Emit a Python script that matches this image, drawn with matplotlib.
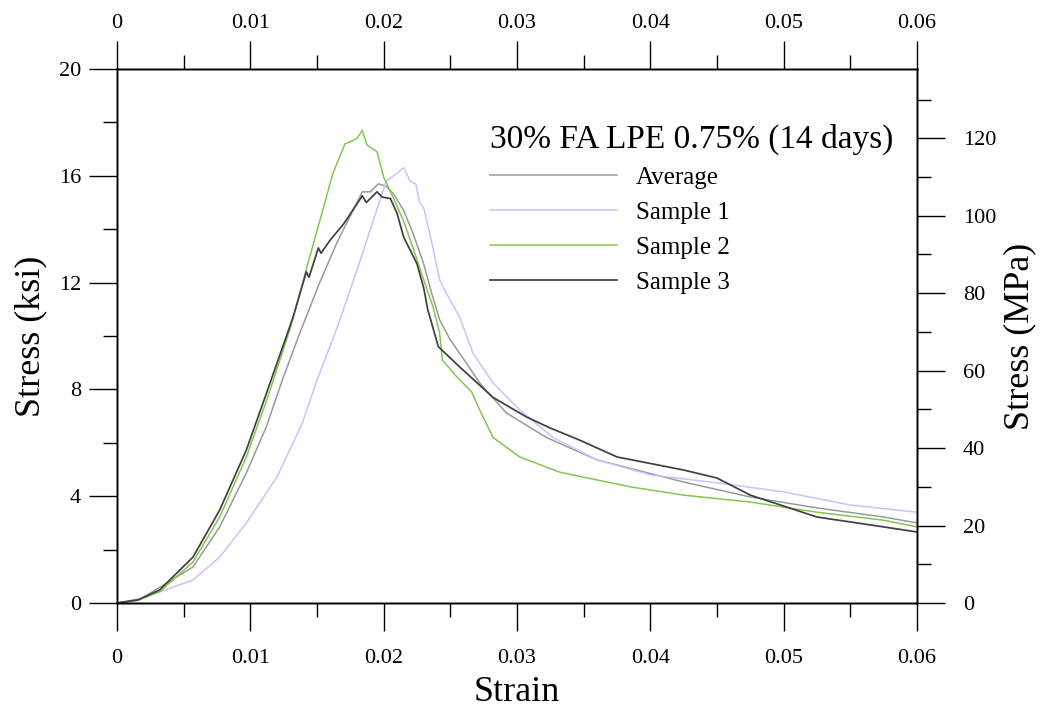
import matplotlib
matplotlib.use("Agg")
import matplotlib.pyplot as plt
from matplotlib.ticker import MultipleLocator, FuncFormatter

plt.rcParams['font.family'] = ['Liberation Serif', 'DejaVu Serif']

# ---- data (strain, stress in ksi) ----
avg_strain = [0, 0.0016, 0.0057, 0.0077, 0.0097, 0.0112, 0.0124, 0.0137, 0.0152, 0.0165, 0.0175,
              0.0184, 0.019, 0.0196, 0.0202, 0.0207, 0.0215, 0.0222, 0.023, 0.0236, 0.0242, 0.025,
              0.0262, 0.0272, 0.0292, 0.0322, 0.036, 0.0425, 0.0475, 0.0525, 0.0575, 0.06]
avg_stress = [0, 0.1, 1.35, 2.85, 4.87, 6.6, 8.35, 10.1, 12.0, 13.5, 14.5,
              15.4, 15.4, 15.7, 15.6, 15.35, 14.7, 13.85, 12.7, 11.6, 10.6, 9.85,
              8.99, 8.24, 7.12, 6.2, 5.36, 4.53, 3.97, 3.56, 3.22, 3.0]

s1_strain = [0, 0.002, 0.0057, 0.0077, 0.0097, 0.012, 0.0139, 0.015, 0.0165, 0.018, 0.0192,
             0.0202, 0.021, 0.0215, 0.022, 0.0224, 0.0227, 0.023, 0.0237, 0.0242, 0.0247, 0.0257,
             0.0267, 0.0282, 0.0302, 0.0327, 0.036, 0.04, 0.045, 0.05, 0.055, 0.06]
s1_stress = [0, 0.2, 0.86, 1.72, 3.0, 4.72, 6.74, 8.35, 10.3, 12.47, 14.3,
             15.8, 16.1, 16.3, 15.8, 15.7, 15.0, 14.8, 13.3, 12.1, 11.6, 10.7,
             9.36, 8.24, 7.23, 6.2, 5.36, 4.8, 4.5, 4.16, 3.67, 3.4]

s2_strain = [0, 0.0016, 0.0032, 0.0057, 0.0077, 0.0097, 0.0113, 0.013, 0.01425, 0.0152, 0.0162,
             0.0171, 0.0175, 0.018, 0.0184, 0.01875, 0.0195, 0.02, 0.0207, 0.0215, 0.0222, 0.023,
             0.0237, 0.0242, 0.0244, 0.0255, 0.0266, 0.0272, 0.0282, 0.0302, 0.0332, 0.0385,
             0.0425, 0.0475, 0.0525, 0.0575, 0.06]
s2_stress = [0, 0.11, 0.42, 1.54, 3.22, 5.47, 7.7, 10.3, 12.6, 14.3, 16.1,
             17.2, 17.27, 17.4, 17.7, 17.15, 16.9, 15.95, 15.2, 14.3, 13.3, 12.1,
             11.1, 10.1, 9.1, 8.46, 7.9, 7.23, 6.2, 5.47, 4.9, 4.35,
             4.04, 3.78, 3.4, 3.1, 2.85]

s3_strain = [0, 0.0016, 0.0032, 0.0057, 0.0077, 0.0097, 0.0111, 0.0132, 0.0142, 0.0144, 0.0151,
             0.0153, 0.016, 0.017, 0.0178, 0.0184, 0.0187, 0.0195, 0.0199, 0.0205, 0.021, 0.0215,
             0.0225, 0.023, 0.0233, 0.0241, 0.0257, 0.0282, 0.0307, 0.0325, 0.0347, 0.0375,
             0.0425, 0.045, 0.0475, 0.0525, 0.0575, 0.06]
s3_stress = [0, 0.12, 0.49, 1.72, 3.48, 5.73, 7.7, 10.7, 12.4, 12.2, 13.3,
             13.1, 13.6, 14.2, 14.8, 15.25, 15.0, 15.4, 15.2, 15.15, 14.6, 13.7,
             12.7, 11.8, 11.0, 9.6, 8.84, 7.7, 6.97, 6.55, 6.1, 5.47,
             4.98, 4.68, 4.04, 3.22, 2.85, 2.66]

labels = ["Average", "Sample 1", "Sample 2", "Sample 3"]
colors = ["#999999", "#c4c4ff", "#80c850", "#404040"]
title = "30% FA LPE 0.75% (14 days)"
KSI_TO_MPA = 6.894757

fig = plt.figure(figsize=(10.41, 7.09), dpi=100)
ax = fig.add_axes([0.1124, 0.1495, 0.7685, 0.7532])

series = [(avg_strain, avg_stress), (s1_strain, s1_stress), (s2_strain, s2_stress), (s3_strain, s3_stress)]
for (x, y), lab, c in zip(series, labels, colors):
    lw = 1.25 if lab == "Sample 3" else 1.1
    ax.plot(x, y, color=c, lw=lw, label=lab)

strain_fmt = FuncFormatter(lambda v, p: "%g" % round(v, 3))

ax.set_xlim(0, 0.06)
ax.set_ylim(0, 20)
ax.xaxis.set_major_locator(MultipleLocator(0.01))
ax.xaxis.set_minor_locator(MultipleLocator(0.005))
ax.yaxis.set_major_locator(MultipleLocator(4))
ax.yaxis.set_minor_locator(MultipleLocator(2))
ax.xaxis.set_major_formatter(strain_fmt)
ax.tick_params(axis='both', which='major', length=20, width=1, labelsize=16)
ax.tick_params(axis='both', which='minor', length=10, width=1)
ax.tick_params(axis='x', which='both', top=False, direction='out')
ax.tick_params(axis='x', which='major', pad=13)
ax.tick_params(axis='y', which='both', right=False, direction='out', pad=6)
ax.set_xlabel("Strain", fontsize=26, labelpad=6)
ax.set_ylabel("Stress (ksi)", fontsize=26, labelpad=8)

# right axis in MPa
ax2 = ax.twinx()
ax2.set_ylim(0, 20 * KSI_TO_MPA)
ax2.yaxis.set_major_locator(MultipleLocator(20))
ax2.yaxis.set_minor_locator(MultipleLocator(10))
ax2.tick_params(axis='y', which='major', length=20, width=1, labelsize=16, pad=13)
ax2.tick_params(axis='y', which='minor', length=10, width=1)
ax2.set_ylabel("Stress (MPa)", fontsize=26, labelpad=5)

# top axis, same strain scale
ax3 = ax.twiny()
ax3.set_xlim(ax.get_xlim())
ax3.xaxis.set_major_locator(MultipleLocator(0.01))
ax3.xaxis.set_minor_locator(MultipleLocator(0.005))
ax3.xaxis.set_major_formatter(strain_fmt)
ax3.tick_params(axis='x', which='major', length=20, width=1, labelsize=16, pad=6)
ax3.tick_params(axis='x', which='minor', length=10, width=1)

for a in (ax, ax2, ax3):
    for s in a.spines.values():
        s.set_linewidth(1.0)

leg = ax.legend(loc='upper left', bbox_to_anchor=(0.466, 0.897), frameon=False,
                fontsize=18, title=title, title_fontsize=24, alignment='left',
                handlelength=5.1, handletextpad=0.75, labelspacing=0.5, borderpad=0,
                borderaxespad=0)
leg._legend_box.sep = 8

fig.savefig("out.png", dpi=100)
